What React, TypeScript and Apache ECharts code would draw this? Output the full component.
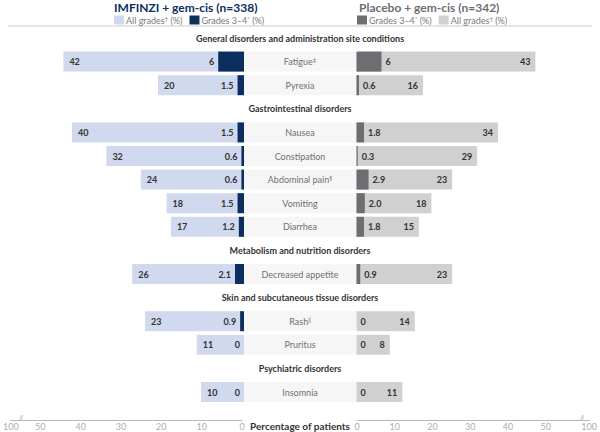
import React, { useEffect, useRef } from "react";
import * as echarts from "echarts";

// rows top to bottom; a null value marks a group header row
const categories = [
  "General disorders and administration site conditions",
  "Fatigue‡",
  "Pyrexia",
  "Gastrointestinal disorders",
  "Nausea",
  "Constipation",
  "Abdominal pain§",
  "Vomiting",
  "Diarrhea",
  "Metabolism and nutrition disorders",
  "Decreased appetite",
  "Skin and subcutaneous tissue disorders",
  "Rash‖",
  "Pruritus",
  "Psychiatric disorders",
  "Insomnia",
];

const imfinziAll = [null, 42, 20, null, 40, 32, 24, 18, 17, null, 26, null, 23, 11, null, 10];
// grade 3-4 kept as text so "2.0" prints the way it is written
const imfinziG34 = [null, "6", "1.5", null, "1.5", "0.6", "0.6", "1.5", "1.2", null, "2.1", null, "0.9", "0", null, "0"];
const placeboG34 = [null, "6", "0.6", null, "1.8", "0.3", "2.9", "2.0", "1.8", null, "0.9", null, "0", "0", null, "0"];
const placeboAll = [null, 43, 16, null, 34, 29, 23, 18, 15, null, 23, null, 14, 8, null, 11];

const axisTicks = [0, 10, 20, 30, 40, 50];
const breakLabel = "100";

const legendNames: Record<string, string> = {
  imfAll: "All grades{sup|†} (%)",
  imfG34: "Grades 3–4{sup|*} (%)",
  pboG34: "Grades 3–4{sup|*} (%)",
  pboAll: "All grades{sup|†} (%)",
};

const FONT = "Lato, 'Open Sans', sans-serif";
const NAVY = "#0c2f5f";
const LIGHT_BLUE = "#d0d9ee";
const DARK_GRAY = "#6d6e71";
const LIGHT_GRAY = "#d0d0d0";
const BAND = "#f6f6f7";
const TEXT = "#333333";

// axis positions where the "100" tick sits after the break
const LEFT_BREAK_AT = 57.3;
const RIGHT_BREAK_AT = 61.5;

const isHeader = (i: number) => imfinziAll[i] === null;
const num = (v: string | number | null) => (v === null ? "-" : Number(v));

const splitSup = (name: string) => {
  const m = name.match(/^(.*?)([‡§‖]?)$/);
  if (!m || !m[2]) return name;
  return `${m[1]}{sup|${m[2]}}`;
};

const valueLabel = {
  show: true,
  fontFamily: FONT,
  fontSize: 9,
  fontWeight: "bold",
  color: TEXT,
};

const gridTop = 26.2;
const gridHeight = 377.6;

const catAxis = (gridIndex: number) => ({
  type: "category",
  gridIndex,
  data: categories,
  inverse: true,
  show: false,
});

const breakAxis = (gridIndex: number, max: number, inverse: boolean) => ({
  type: "value",
  gridIndex,
  min: 0,
  max,
  inverse,
  position: "bottom",
  axisLine: { show: true, lineStyle: { color: "#b8b8b8", width: 1 } },
  axisTick: { show: false },
  splitLine: { show: false },
  axisLabel: {
    customValues: [...axisTicks, max],
    formatter: (v: number) => (v === max ? breakLabel : String(v)),
    color: "#adadad",
    fontFamily: FONT,
    fontSize: 9,
    margin: 2,
  },
});

const App: React.FC = () => {
  const chartRef = useRef<HTMLDivElement>(null);

  useEffect(() => {
    document.body.style.margin = "0";
    if (!chartRef.current) return;
    const chart = echarts.init(chartRef.current, null, { renderer: "svg" });

    const option = {
      animation: false,
      textStyle: { fontFamily: FONT },
      title: [
        {
          text: "IMFINZI + gem-cis (n=338)",
          left: 114,
          top: 1,
          padding: 0,
          textStyle: { fontFamily: FONT, fontSize: 12, fontWeight: "bold", color: NAVY },
        },
        {
          text: "Placebo + gem-cis (n=342)",
          left: 359,
          top: 1,
          padding: 0,
          textStyle: { fontFamily: FONT, fontSize: 12, fontWeight: "bold", color: DARK_GRAY },
        },
      ],
      legend: [
        { data: ["imfAll", "imfG34"], left: 114 },
        { data: ["pboG34", "pboAll"], left: 357 },
      ].map((l) => ({
        ...l,
        top: 15,
        padding: 0,
        icon: "rect",
        itemWidth: 10,
        itemHeight: 9,
        itemGap: 7,
        selectedMode: false,
        formatter: (name: string) => legendNames[name],
        textStyle: {
          fontFamily: FONT,
          fontSize: 9,
          color: "#7a7a7a",
          padding: [0, 0, 0, -3],
          rich: { sup: { fontSize: 6, color: "#7a7a7a", padding: [0, 0, 4, 0] } },
        },
      })),
      grid: [
        { left: 29, width: 215, top: gridTop, height: gridHeight },
        { left: 244, width: 112, top: gridTop, height: gridHeight },
        { left: 356.5, width: 208, top: gridTop, height: gridHeight },
        { left: 6, width: 236, top: 419, height: 1 },
        { left: 357, width: 236, top: 419, height: 1 },
      ],
      xAxis: [
        { type: "value", gridIndex: 0, min: 0, max: 50, inverse: true, show: false },
        { type: "value", gridIndex: 1, min: 0, max: 1, show: false },
        { type: "value", gridIndex: 2, min: 0, max: 50, show: false },
        breakAxis(3, LEFT_BREAK_AT, true),
        breakAxis(4, RIGHT_BREAK_AT, false),
      ],
      yAxis: [
        catAxis(0),
        catAxis(1),
        catAxis(2),
        { type: "value", gridIndex: 3, show: false },
        { type: "value", gridIndex: 4, show: false },
      ],
      series: [
        {
          name: "imfAll",
          type: "bar",
          xAxisIndex: 0,
          yAxisIndex: 0,
          barWidth: 20,
          barGap: "-100%",
          itemStyle: { color: LIGHT_BLUE },
          data: imfinziAll.map(num),
          label: { ...valueLabel, position: "insideLeft", distance: 6 },
        },
        {
          name: "imfG34",
          type: "bar",
          xAxisIndex: 0,
          yAxisIndex: 0,
          barWidth: 20,
          barGap: "-100%",
          itemStyle: { color: NAVY },
          data: imfinziG34.map(num),
          label: {
            ...valueLabel,
            position: "left",
            distance: 4,
            formatter: (p: any) => imfinziG34[p.dataIndex],
          },
        },
        {
          name: "rows",
          type: "bar",
          xAxisIndex: 1,
          yAxisIndex: 1,
          barWidth: 20,
          itemStyle: { color: BAND },
          data: categories.map((c, i) =>
            isHeader(i)
              ? {
                  value: 1,
                  itemStyle: { color: "rgba(0,0,0,0)" },
                  label: { fontWeight: "bold", color: TEXT, fontSize: 9 },
                }
              : 1
          ),
          label: {
            show: true,
            position: "inside",
            fontFamily: FONT,
            fontSize: 9,
            color: "#707070",
            formatter: (p: any) => splitSup(p.name),
            rich: { sup: { fontSize: 6, color: "#707070", padding: [0, 0, 4, 0] } },
          },
        },
        {
          name: "pboAll",
          type: "bar",
          xAxisIndex: 2,
          yAxisIndex: 2,
          barWidth: 20,
          barGap: "-100%",
          itemStyle: { color: LIGHT_GRAY },
          data: placeboAll.map(num),
          label: { ...valueLabel, position: "insideRight", distance: 5 },
        },
        {
          name: "pboG34",
          type: "bar",
          xAxisIndex: 2,
          yAxisIndex: 2,
          barWidth: 20,
          barGap: "-100%",
          itemStyle: { color: DARK_GRAY },
          data: placeboG34.map(num),
          label: {
            ...valueLabel,
            position: "right",
            distance: 4,
            formatter: (p: any) => placeboG34[p.dataIndex],
          },
        },
      ],
      graphic: [
        {
          type: "line",
          shape: { x1: 8, y1: 26, x2: 592, y2: 26 },
          style: { stroke: "#dcdcdc", lineWidth: 1.5 },
          silent: true,
        },
        {
          type: "text",
          x: 300,
          y: 426,
          style: {
            text: "Percentage of patients",
            fontFamily: FONT,
            fontSize: 10,
            fontWeight: "bold",
            fill: TEXT,
            align: "center",
            verticalAlign: "middle",
          },
        },
        ...[21, 582].map((x) => ({
          type: "text",
          x,
          y: 418,
          style: {
            text: "//",
            fontFamily: FONT,
            fontSize: 7,
            fill: "#999999",
            align: "center",
            verticalAlign: "middle",
          },
        })),
      ],
    };

    chart.setOption(option as any);

    return () => {
      chart.dispose();
    };
  }, []);

  return <div ref={chartRef} style={{ width: 600, height: 432 }} />;
};

export default App;
